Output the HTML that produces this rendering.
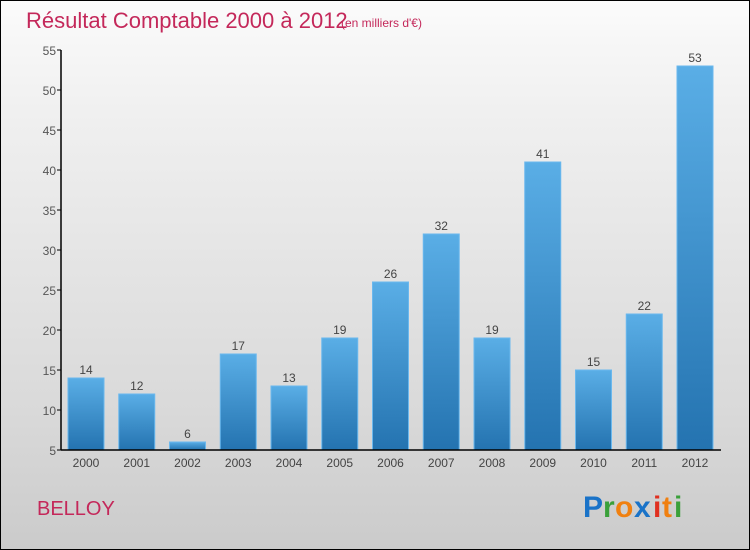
<!DOCTYPE html>
<html><head><meta charset="utf-8"><style>
html,body{margin:0;padding:0}
#c{position:relative;width:748px;height:548px;border:1px solid #000;background:linear-gradient(#fbfbfb,#f0f0f0 20%,#d9d9d9 75%,#cbcbcb);font-family:"Liberation Sans",sans-serif;overflow:hidden}
</style></head><body>
<div id="c">
<svg width="748" height="548" id="svg">
<defs><linearGradient id="bg" x1="0" y1="0" x2="0" y2="1"><stop offset="0" stop-color="#5aaee6"/><stop offset="1" stop-color="#2473b0"/></linearGradient></defs>
<text x="25" y="27" font-size="22" fill="#c4285a">Résultat Comptable 2000 à 2012</text>
<text x="340" y="26" font-size="12" fill="#c4285a">(en milliers d'€)</text>
<text x="36" y="514" font-size="20" fill="#c4285a">BELLOY</text>
<g font-size="30" font-weight="bold" font-family="Liberation Sans,sans-serif">
<text x="582" y="516" fill="#1a73c8">P</text><text x="602" y="516" fill="#3aa03a">r</text><text x="614" y="516" fill="#f08010">o</text><text x="633" y="516" fill="#1a73c8">x</text><text x="652" y="516" fill="#e03020">i</text><text x="661" y="516" fill="#f08010">t</text><text x="673" y="516" fill="#3aa03a">i</text></g>
<g id="plot"></g>
</svg>
</div>
<script>
const categories=["2000","2001","2002","2003","2004","2005","2006","2007","2008","2009","2010","2011","2012"];
const values=[14,12,6,17,13,19,26,32,19,41,15,22,53];
const yTicks=[5,10,15,20,25,30,35,40,45,50,55];
const NS="http://www.w3.org/2000/svg";
const g=document.getElementById('plot');
const x0=59,band=50.75,bw=36,off=8;
const y=v=>449-(v-5)*8;
function el(t,a,txt){const e=document.createElementNS(NS,t);for(const k in a)e.setAttribute(k,a[k]);if(txt!==undefined)e.textContent=txt;g.appendChild(e);return e;}
values.forEach((v,i)=>{
 const bx=x0+i*band+off;
 const r=el('rect',{x:bx,y:y(v),width:bw,height:y(5)-y(v),fill:'url(#bg)',stroke:'#6ab8ee','stroke-width':1});
 
 
 const t=el('text',{x:bx+bw/2,y:y(v)-4,'font-size':12,fill:'#444','text-anchor':'middle'},String(v));
 
 
 const c=el('text',{x:bx+bw/2,y:466,'font-size':12,fill:'#444','text-anchor':'middle'},categories[i]);
 
 
});
yTicks.forEach(v=>{
 const l=el('line',{x1:56,x2:60,y1:y(v),y2:y(v),stroke:'#000'});
 
 
 const t=el('text',{x:55,y:y(v)+5,'font-size':12,fill:'#555','text-anchor':'end'},String(v));
 
 
});
const ya=el('line',{x1:60,x2:60,y1:y(55),y2:y(5),stroke:'#000','stroke-width':1.5});


const xa=el('line',{x1:60,x2:720,y1:y(5),y2:y(5),stroke:'#000','stroke-width':1.5});


</script>
</body></html>
